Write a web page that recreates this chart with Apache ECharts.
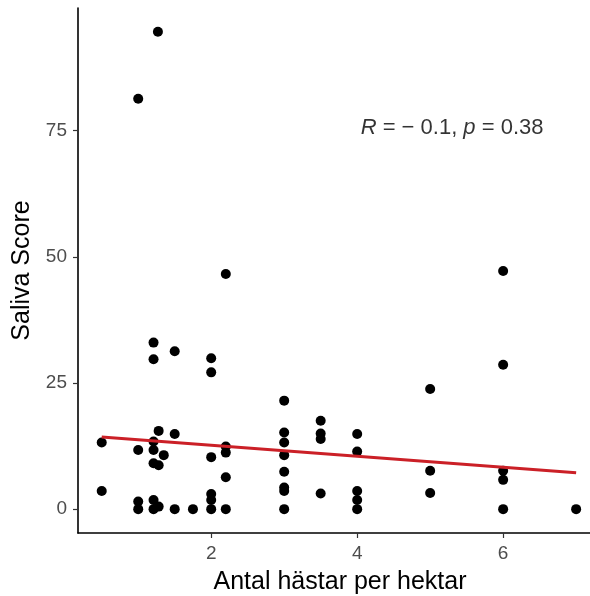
<!DOCTYPE html>
<html>
<head>
<meta charset="utf-8">
<script src="https://cdn.jsdelivr.net/npm/echarts@6/dist/echarts.min.js"></script>
<style>
  html, body { margin: 0; padding: 0; background: #fff; }
  #chart { width: 590px; height: 596px; }
</style>
</head>
<body>
<div id="chart"></div>
<script>
// horses per hectare (x) and saliva score (y)
const horses = [
  1.27, 1.0, 2.2, 6, 6, 5,
  1.21, 1.21, 1.5, 2.0, 2.0,
  0.5, 0.5, 1.28, 1.5, 1.21, 1.0, 1.21, 1.35, 1.21, 1.28,
  2.0, 2.2, 2.2, 2.2, 2.0, 2.0, 2.0, 2.2, 1.75, 1.5,
  1.0, 1.0, 1.21, 1.21, 1.28,
  3, 3, 3, 3, 3, 3, 3, 3,
  3.5, 3.5, 3.5, 3.5,
  4, 4, 4, 4, 4,
  5, 5,
  6, 6, 6,
  7
];
const saliva = [
  94.6, 81.3, 46.6, 47.2, 28.6, 23.8,
  33.0, 29.7, 31.3, 29.9, 27.1,
  13.2, 3.6, 15.5, 14.9, 13.4, 11.7, 11.7, 10.7, 9.1, 8.7,
  10.3, 12.4, 11.2, 6.3, 3.0, 1.8, 0, 0, 0, 0,
  1.5, 0, 1.8, 0, 0.5,
  21.5, 15.2, 13.2, 10.7, 7.4, 4.3, 3.6, 0,
  17.5, 15.0, 13.9, 3.1,
  14.9, 11.4, 3.6, 1.8, 0,
  7.6, 3.2,
  7.6, 5.8, 0,
  0
];

// fitted line ends
const fitX = [0.5, 7];
const fitY = [14.3, 7.2];

const xTicks = [2, 4, 6];
const yTicks = [0, 25, 50, 75];

const corrLabel = { x: 5.3, y: 75.5, r: '\u2212 0.1', p: '0.38' };

const chart = echarts.init(document.getElementById('chart'));

const font = 'Liberation Sans, Arial, sans-serif';
const tickColor = '#4d4d4d';

const option = {
  backgroundColor: '#fff',
  animation: false,
  grid: { left: 78, right: 0, top: 8, bottom: 63, outerBoundsMode: 'none', containLabel: false },
  xAxis: {
    type: 'value',
    min: 0.175,
    max: 7.19,
    name: 'Antal hästar per hektar',
    nameLocation: 'middle',
    nameGap: 37,
    nameTextStyle: { fontFamily: font, fontSize: 25, color: '#000', padding: [0, 0, 0, 12] },
    splitLine: { show: false },
    axisLine: { show: true, onZero: false, lineStyle: { color: '#000', width: 1.6 } },
    axisTick: { show: true, length: 5, lineStyle: { color: '#333', width: 1.2 }, customValues: xTicks },
    axisLabel: {
      fontFamily: font, fontSize: 19, color: tickColor, margin: 11,
      customValues: xTicks
    }
  },
  yAxis: {
    type: 'value',
    min: -4.73,
    max: 99.3,
    name: 'Saliva Score',
    nameLocation: 'middle',
    nameGap: 38,
    nameTextStyle: { fontFamily: font, fontSize: 25, color: '#000' },
    splitLine: { show: false },
    axisLine: { show: true, onZero: false, lineStyle: { color: '#000', width: 1.6 } },
    axisTick: { show: true, length: 5, lineStyle: { color: '#333', width: 1.2 }, customValues: yTicks },
    axisLabel: {
      fontFamily: font, fontSize: 19, color: tickColor, margin: 11,
      customValues: yTicks
    }
  },
  series: [
    {
      type: 'scatter',
      symbolSize: 10,
      itemStyle: { color: '#000', opacity: 1 },
      data: horses.map((h, i) => [h, saliva[i]]),
      z: 2
    },
    {
      type: 'line',
      symbol: 'none',
      lineStyle: { color: '#cb2027', width: 3 },
      data: fitX.map((x, i) => [x, fitY[i]]),
      z: 3
    },
    {
      type: 'scatter',
      symbolSize: 0,
      silent: true,
      data: [[corrLabel.x, corrLabel.y]],
      label: {
        show: true,
        position: 'inside',
        formatter: () => `{i|R} = ${corrLabel.r}, {i|p} = ${corrLabel.p}`,
        fontFamily: font,
        fontSize: 22,
        color: '#000',
        rich: {
          i: { fontStyle: 'italic', fontFamily: font, fontSize: 22, color: '#000' }
        }
      }
    }
  ]
};

chart.setOption(option);
</script>
</body>
</html>
